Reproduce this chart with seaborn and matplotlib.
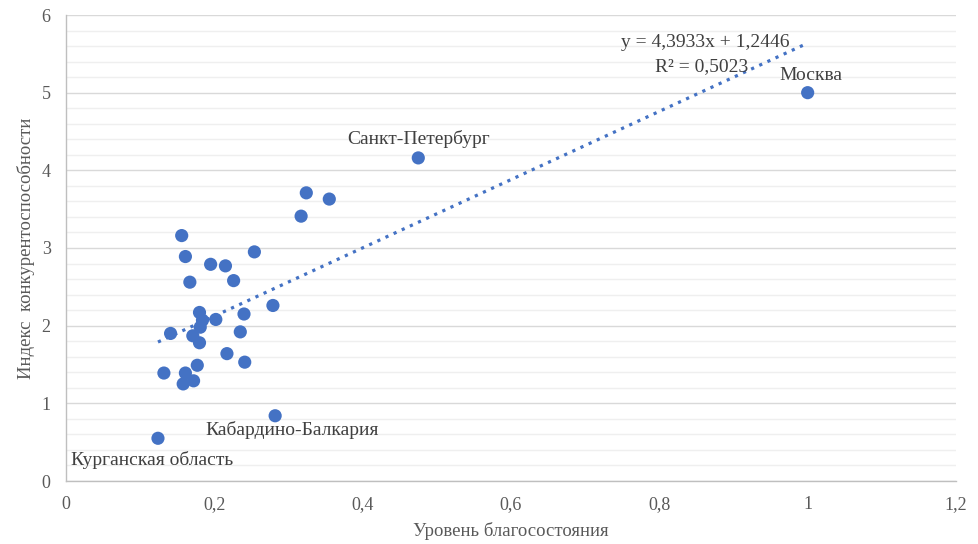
import numpy as np
import pandas as pd
import matplotlib
matplotlib.use("Agg")
import matplotlib.pyplot as plt
import seaborn as sns
from matplotlib.ticker import MultipleLocator, FuncFormatter

# ---- data ----
wealth = [1.000, 0.475, 0.324, 0.355, 0.317, 0.156, 0.161, 0.254, 0.195, 0.215,
          0.167, 0.226, 0.279, 0.180, 0.240, 0.184, 0.202, 0.141, 0.181, 0.171,
          0.180, 0.235, 0.217, 0.241, 0.177, 0.132, 0.161, 0.172, 0.158, 0.282,
          0.124]
competitiveness = [5.00, 4.16, 3.71, 3.63, 3.41, 3.16, 2.89, 2.95, 2.79, 2.77,
                   2.56, 2.58, 2.26, 2.17, 2.15, 2.07, 2.08, 1.90, 1.98, 1.87,
                   1.78, 1.92, 1.64, 1.53, 1.49, 1.39, 1.39, 1.29, 1.25, 0.84,
                   0.55]
slope, intercept, r2 = 4.3933, 1.2446, 0.5023
labels = {0: "Москва", 1: "Санкт-Петербург", 29: "Кабардино-Балкария", 30: "Курганская область"}
x_label = "Уровень благосостояния"
y_label = "Индекс  конкурентоспособности"
eq_line1 = "y = 4,3933x + 1,2446"
eq_line2 = "R² = 0,5023"

df = pd.DataFrame({"x": wealth, "y": competitiveness})

sns.set_theme(style="white")
plt.rcParams['font.family'] = ['Liberation Serif', 'DejaVu Serif']

fig = plt.figure(figsize=(9.79, 5.44), dpi=100)
ax = fig.add_axes([66/979, 1-481/544, (956-66)/979, (481-15)/544])

blue = "#4472C4"
grey_txt = "#595959"

# trend line
xs = np.array([df.x.min(), df.x.max()])
ax.plot(xs, slope*xs + intercept, linestyle=(0, (1, 1.8)), color=blue, lw=2.3, zorder=2)

sns.scatterplot(data=df, x="x", y="y", ax=ax, color=blue, s=90, edgecolor="none", zorder=3)

ax.set_xlim(0, 1.2)
ax.set_ylim(0, 6)
ax.xaxis.set_major_locator(MultipleLocator(0.2))
ax.yaxis.set_major_locator(MultipleLocator(1))
ax.yaxis.set_minor_locator(MultipleLocator(0.2))
fmt = FuncFormatter(lambda v, p: ("%g" % round(v, 2)).replace(".", ","))
ax.xaxis.set_major_formatter(fmt)
ax.yaxis.set_major_formatter(fmt)

ax.grid(which="major", axis="y", color="#d9d9d9", lw=1.0)
ax.grid(which="minor", axis="y", color="#efefef", lw=1.0)
ax.grid(which="major", axis="x", visible=False)
ax.set_axisbelow(True)

for s in ["top", "right"]:
    ax.spines[s].set_visible(False)
for s in ["left", "bottom"]:
    ax.spines[s].set_color("#bfbfbf")
    ax.spines[s].set_linewidth(1.0)

ax.tick_params(axis="x", which="major", length=5, color="#bfbfbf", direction="out",
               labelsize=13, labelcolor=grey_txt, pad=6)
ax.tick_params(axis="y", which="major", length=5, color="#bfbfbf", direction="out",
               labelsize=13, labelcolor=grey_txt, pad=6)
ax.tick_params(axis="y", which="minor", length=0)

ax.set_xlabel(x_label, fontsize=13.5, color=grey_txt, labelpad=6)
ax.set_ylabel(y_label, fontsize=13.5, color=grey_txt, labelpad=5)

# point labels
offsets = {0: (2, 6, "center", "bottom"), 1: (0, 7, "center", "bottom"),
           29: (12, -4, "center", "top"), 30: (-4, -9, "center", "top")}
for i, t in labels.items():
    dx, dy, ha, va = offsets[i]
    ax.annotate(t, (wealth[i], competitiveness[i]), xytext=(dx, dy), textcoords="offset points",
                ha=ha, va=va, fontsize=14, color="#404040")

ax.text(0.862, 5.64, eq_line1, ha="center", va="center", fontsize=14, color="#404040")
ax.text(0.857, 5.34, eq_line2, ha="center", va="center", fontsize=14, color="#404040")

fig.savefig("out.png", dpi=100)
